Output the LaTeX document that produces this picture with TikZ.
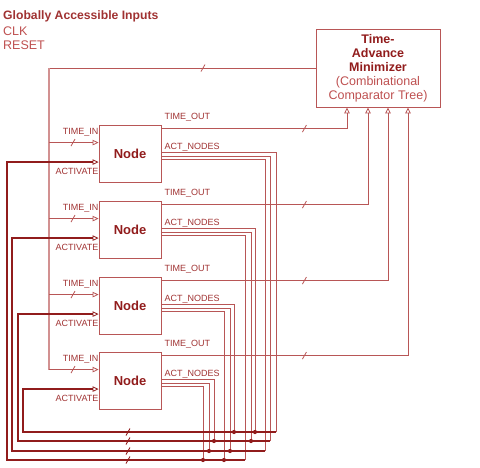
\documentclass[tikz,border=0pt]{standalone}
\usepackage{fontspec}
\setmainfont{Liberation Sans}
\usetikzlibrary{arrows.meta,calc}
\definecolor{wirec}{RGB}{184,86,86}
\definecolor{actc}{RGB}{145,28,28}
\definecolor{txtc}{RGB}{160,50,50}
\definecolor{lightc}{RGB}{190,80,80}
\definecolor{feedc}{RGB}{210,145,145}
\begin{document}
\begin{tikzpicture}[x=1pt,y=-1pt,
  wire/.style={draw=wirec, line width=0.85pt},
  actw/.style={draw=actc, line width=1.5pt},
  hin/.style={-{Triangle[open,length=6pt,width=5.5pt,line width=0.8pt]}},
  blk/.style={draw=wirec, line width=0.85pt, minimum width=62pt, minimum height=57pt, inner sep=0pt, font=\fontsize{13}{15}\selectfont\bfseries, text=actc},
  lbl/.style={font=\fontsize{9}{10}\selectfont, text=txtc, inner sep=0pt},
  jdot/.style={circle, fill=actc, inner sep=0pt, minimum size=4.2pt},
  busmark/.pic={\draw[wirec, line width=0.8pt] (-2,3.5) -- (2,-3.5);},
  busmarkd/.pic={\draw[actc, line width=0.9pt] (-2,3.5) -- (2,-3.5);}
]
\useasboundingbox (0,0) rectangle (480,467);

% header texts
\node[anchor=west, inner sep=0pt, font=\fontsize{12.2}{14}\selectfont\bfseries, text=txtc] (gai) at (3,16) {Globally Accessible Inputs};
\node[anchor=west, inner sep=0pt, font=\fontsize{12.5}{14}\selectfont, text=lightc] (clk) at (3,31.5) {CLK};
\node[anchor=west, inner sep=0pt, font=\fontsize{12.5}{14}\selectfont, text=lightc] (rst) at (3,45.5) {RESET};

% minimizer
\node[draw=wirec, line width=0.85pt, minimum width=124pt, minimum height=78pt, inner sep=0pt, align=center, font=\fontsize{12.5}{14}\selectfont] (tam) at (378,68)
  {\textcolor{actc}{\bfseries Time-}\\\textcolor{actc}{\bfseries Advance}\\\textcolor{actc}{\bfseries Minimizer}\\\textcolor{lightc}{(Combinational}\\\textcolor{lightc}{Comparator Tree)}};

% nodes
\node[blk] (n1) at (130,153.5) {Node};
\node[blk] (n2) at (130,229.5) {Node};
\node[blk] (n3) at (130,305.5) {Node};
\node[blk] (n4) at (130,380.5) {Node};

\foreach \k in {1,...,4}{
  \coordinate (ti\k) at ([yshift=-18pt]n\k.north west);
  \coordinate (ac\k) at ([yshift=-37.5pt]n\k.north west);
  \node[lbl, anchor=east] at ([yshift=-8pt]n\k.north west) {TIME\_IN};
  \node[lbl, anchor=east] at ([yshift=-47pt]n\k.north west) {ACTIVATE};
  \node[lbl, anchor=west] at ([xshift=3pt,yshift=7.5pt]n\k.north east) {TIME\_OUT};
  \node[lbl, anchor=west] at ([xshift=3pt,yshift=-23pt]n\k.north east) {ACT\_NODES};
}

% feedback (minimizer output -> TIME_IN)
\coordinate (ftop) at (49,68);
\draw[wire] (tam.west) -- (ftop);
\pic at (203,68) {busmark};
\draw[draw=feedc, line width=2.2pt] (ftop) -- (ftop |- ti4);
\foreach \k in {1,...,4}{
  \draw[wire,hin] (ftop |- ti\k) -- (ti\k);
  \pic at ($(ftop |- ti\k)+(24,0)$) {busmark};
}

% TIME_OUT -> minimizer
\draw[wire,hin] ([yshift=-4pt]n1.north east) -| ([xshift=-31pt]tam.south);
\draw[wire,hin] ([yshift=-4pt]n2.north east) -| ([xshift=-10pt]tam.south);
\draw[wire,hin] ([yshift=-4pt]n3.north east) -| ([xshift=10pt]tam.south);
\draw[wire,hin] ([yshift=-4pt]n4.north east) -| ([xshift=30pt]tam.south);
\foreach \k in {1,...,4}{
  \pic at ($(n\k.north east)+(143,4)$) {busmark};
}

% bus corners (right ends) and left corners
\coordinate (b1) at (245,460); \coordinate (l1) at (7,460);
\coordinate (b2) at (265,451); \coordinate (l2) at (12,451);
\coordinate (b3) at (270,441); \coordinate (l3) at (18,441);
\coordinate (b4) at (276,432); \coordinate (l4) at (23,432);
\coordinate (mk) at (128,0);
% junctions
\coordinate (d24) at (255,432); \coordinate (d23) at (251,441);
\coordinate (d34) at (234,432); \coordinate (d32) at (230,451); \coordinate (d31) at (224,460);
\coordinate (d43) at (214,441); \coordinate (d42) at (209,451); \coordinate (d41) at (203,460);

% ACT_NODES lines
\draw[wire] ([yshift=-28pt]n1.north east) -| (b4);
\draw[wire] ([yshift=-31.5pt]n1.north east) -| (b3);
\draw[wire] ([yshift=-35pt]n1.north east) -| (b2);
\draw[wire] ([yshift=-28pt]n2.north east) -| (d24);
\draw[wire] ([yshift=-31.5pt]n2.north east) -| (d23);
\draw[wire] ([yshift=-35pt]n2.north east) -| (b1);
\draw[wire] ([yshift=-28pt]n3.north east) -| (d34);
\draw[wire] ([yshift=-31.5pt]n3.north east) -| (d32);
\draw[wire] ([yshift=-35pt]n3.north east) -| (d31);
\draw[wire] ([yshift=-28pt]n4.north east) -| (d43);
\draw[wire] ([yshift=-31.5pt]n4.north east) -| (d42);
\draw[wire] ([yshift=-35pt]n4.north east) -| (d41);

% ACTIVATE buses
\foreach \k in {1,...,4}{
  \draw[actw,hin] (b\k) -- (l\k) -- (l\k |- ac\k) -- (ac\k);
  \pic at (mk |- l\k) {busmarkd};
}
\foreach \d in {d24,d23,d34,d32,d31,d43,d42,d41}{
  \node[jdot] at (\d) {};
}
\end{tikzpicture}
\end{document}
